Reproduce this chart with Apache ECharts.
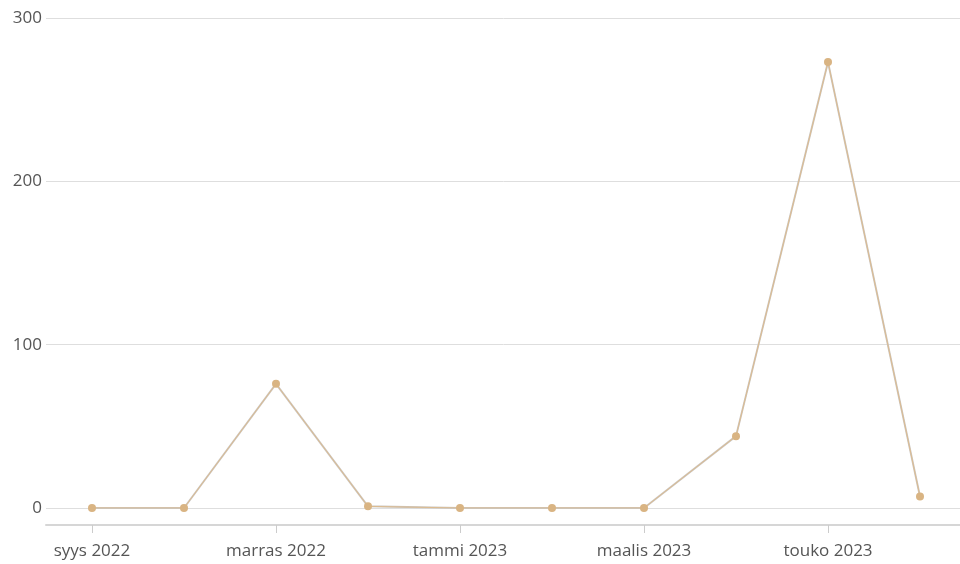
<!DOCTYPE html>
<html><head><meta charset="utf-8">
<script src="https://cdn.jsdelivr.net/npm/echarts@6/dist/echarts.min.js"></script>
<style>html,body{margin:0;padding:0;background:#fff}#c{width:960px;height:564px}</style>
</head><body><div id="c"></div>
<script>
const categories = ['syys 2022','loka 2022','marras 2022','joulu 2022','tammi 2023','helmi 2023','maalis 2023','huhti 2023','touko 2023','kesä 2023'];
const values = [0, 0, 76, 1, 0, 0, 0, 44, 273, 7];
const yTicks = [0, 100, 200, 300];

const chart = echarts.init(document.getElementById('c'));
chart.setOption({
  animation: false,
  grid: {left: 46, right: -6, top: 18, bottom: 56, containLabel: false, outerBoundsMode: 'none'},
  xAxis: {
    type: 'category', data: categories, boundaryGap: true, offset: 17,
    axisLine: {onZero: false, lineStyle: {color: '#d6d6d6', width: 2}},
    axisTick: {show: true, alignWithLabel: true, interval: 1, length: 8, lineStyle: {color: '#cccccc', width: 1}},
    axisLabel: {interval: 1, margin: 18, fontFamily: 'Open Sans', fontSize: 17, color: '#555'}
  },
  yAxis: {
    type: 'value', min: yTicks[0], max: yTicks[yTicks.length-1], interval: 100,
    axisLine: {show: false}, axisTick: {show: false},
    splitLine: {lineStyle: {color: '#dedede'}},
    axisLabel: {margin: 4, fontFamily: 'Open Sans', fontSize: 17, color: '#555'}
  },
  series: [
    {type: 'line', data: values, showSymbol: false, symbol: 'none', z: 1,
     lineStyle: {color: '#cbc7c2', width: 2}},
    {type: 'line', data: values, symbol: 'circle', symbolSize: 8, z: 2,
     itemStyle: {color: '#d9b483'}, lineStyle: {color: '#dcbb90', width: 1}}
  ]
});
</script></body></html>
